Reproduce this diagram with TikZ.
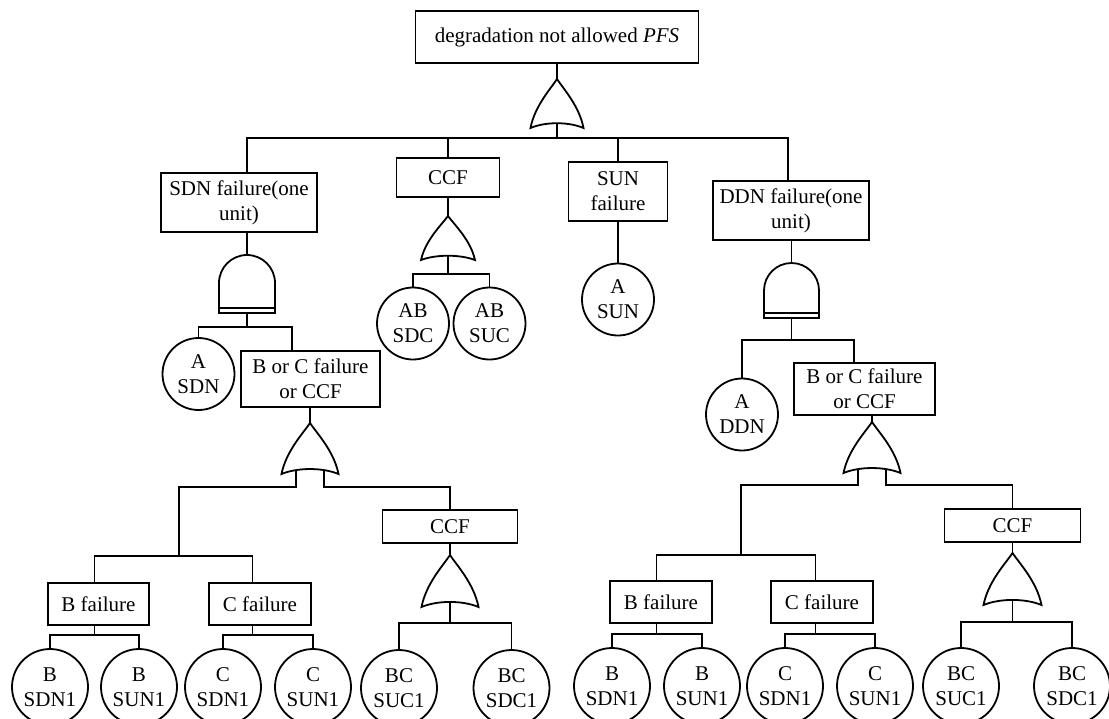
\documentclass[tikz,border=0pt]{standalone}
\usepackage{fontspec}
\setmainfont{Liberation Serif}
\usetikzlibrary{shapes.geometric}

\newcommand\evfont{\fontsize{15.75pt}{18.75pt}\selectfont}

\tikzset{
  wire/.style={line width=1.35pt},
  gate/.style={wire, fill=white},
  evbox/.style 2 args={draw, line width=1.35pt, rectangle, fill=white,
    minimum width=#1*0.75pt, minimum height=#2*0.75pt,
    inner sep=0pt, align=center, font=\evfont},
  basicev/.style={draw, line width=1.35pt, ellipse, fill=white,
    minimum width=76*0.75pt, minimum height=76*0.75pt,
    inner sep=0pt, align=center, font=\evfont},
  basicsm/.style={basicev, minimum width=72*0.75pt, minimum height=72*0.75pt},
}

% OR gate: name, centre x, top y, bottom y, width
\newcommand\orgate[5]{%
  \pgfmathsetmacro\gL{#2-#5/2}%
  \pgfmathsetmacro\gR{#2+#5/2}%
  \pgfmathsetmacro\gh{#4-#3}%
  \draw[gate] (\gL,#4)
    .. controls ({\gL+0.08*#5},{#4-0.45*\gh}) and ({#2-0.12*#5},{#3+0.2*\gh}) .. (#2,#3)
    .. controls ({#2+0.12*#5},{#3+0.2*\gh}) and ({\gR-0.08*#5},{#4-0.45*\gh}) .. (\gR,#4)
    .. controls ({#2+0.22*#5},{#4-0.13*\gh}) and ({#2-0.22*#5},{#4-0.13*\gh}) .. cycle;
  \coordinate (#1-in) at (#2,#3);
  \coordinate (#1-out) at ({#2},{#4-0.1*\gh});
  \coordinate (#1-l) at ({#2-0.25*#5},{#4-0.07*\gh});
  \coordinate (#1-r) at ({#2+0.25*#5},{#4-0.07*\gh});
}

% AND gate with base bar: name, centre x, top y, width, body bottom y, bar bottom y
\newcommand\andgate[6]{%
  \pgfmathsetmacro\gL{#2-#4/2}%
  \pgfmathsetmacro\gR{#2+#4/2}%
  \pgfmathsetmacro\gc{#3+#4/2}%
  \pgfmathsetmacro\gk{0.552*#4/2}%
  \draw[gate] (\gL,#6) -- (\gL,\gc)
    .. controls (\gL,{\gc-\gk}) and ({#2-\gk},#3) .. (#2,#3)
    .. controls ({#2+\gk},#3) and (\gR,{\gc-\gk}) .. (\gR,\gc)
    -- (\gR,#6) -- cycle;
  \draw[wire] (\gL,#5) -- (\gR,#5);
  \coordinate (#1-in) at (#2,#3);
  \coordinate (#1-out) at (#2,#6);
}

\begin{document}
\begin{tikzpicture}[x=0.75pt,y=-0.75pt]
\useasboundingbox (0,0) rectangle (1109,718);
\clip (0,0) rectangle (1109,718);

% ---- events ----
\node[evbox={283}{52}] (top) at (557,37) {degradation not allowed \textit{PFS}};
\node[evbox={156}{59}] (sdn) at (239,202.5) {SDN failure(one\\unit)};
\node[evbox={103}{39}] (ccf1) at (448,177.5) {CCF};
\node[evbox={99}{59}] (sun) at (618,191.5) {SUN\\failure};
\node[evbox={156}{59}] (ddn) at (791,210.5) {DDN failure(one\\unit)};

\node[basicsm] (abSdc) at (413,323.5) {AB\\SDC};
\node[basicsm] (abSuc) at (489.5,323.5) {AB\\SUC};
\node[basicsm] (asun) at (618,299.5) {A\\SUN};
\node[basicsm] (asdn) at (198.5,374) {A\\SDN};
\node[basicsm] (addn) at (742,414.5) {A\\DDN};

\node[evbox={139}{56}] (borcL) at (310.5,379) {B or C failure\\or CCF};
\node[evbox={141}{52}] (borcR) at (864.5,389) {B or C failure\\or CCF};

\node[evbox={101}{42}] (bfL) at (98.5,604) {B failure};
\node[evbox={102}{42}] (cfL) at (260,604) {C failure};
\node[evbox={135}{33}] (ccfL) at (450,526.5) {CCF};
\node[evbox={102}{42}] (bfR) at (661,602) {B failure};
\node[evbox={102}{42}] (cfR) at (822,602) {C failure};
\node[evbox={136}{33}] (ccfR) at (1012.5,525.5) {CCF};

\node[basicev] (bSdnL) at (50,687) {B\\SDN1};
\node[basicev] (bSunL) at (139,687) {B\\SUN1};
\node[basicev] (cSdnL) at (223,687) {C\\SDN1};
\node[basicev] (cSunL) at (313,687) {C\\SUN1};
\node[basicev] (bcSucL) at (399,688) {BC\\SUC1};
\node[basicev] (bcSdcL) at (511.5,688) {BC\\SDC1};
\node[basicev] (bSdnR) at (612,686) {B\\SDN1};
\node[basicev] (bSunR) at (702,686) {B\\SUN1};
\node[basicev] (cSdnR) at (785,686) {C\\SDN1};
\node[basicev] (cSunR) at (875,686) {C\\SUN1};
\node[basicev] (bcSucR) at (961,686) {BC\\SUC1};
\node[basicev] (bcSdcR) at (1072,686) {BC\\SDC1};

% ---- gates ----
\orgate{o1}{557}{79}{128}{53}
\orgate{o2}{448}{216}{260}{54}
\orgate{o3}{310}{423}{474}{57}
\orgate{o4}{450}{555}{607}{57}
\orgate{o5}{872}{422}{473}{57}
\orgate{o6}{1012.5}{553}{605}{58}
\andgate{a1}{247}{255}{56}{308}{313}
\andgate{a2}{791.5}{263}{55}{313}{318}

% ---- connection points on event edges ----
\coordinate (sdn-in) at ([xshift=6pt]sdn.north);
\coordinate (ddn-in) at ([xshift=-2.25pt]ddn.north);
\coordinate (borcL-in) at ([xshift=-13.875pt]borcL.north);
\coordinate (borcR-in) at ([xshift=-7.875pt]borcR.north);
\coordinate (bfL-in) at ([xshift=-3pt]bfL.north);
\coordinate (bfL-out) at ([xshift=-3pt]bfL.south);
\coordinate (cfL-in) at ([xshift=-5.625pt]cfL.north);
\coordinate (cfL-out) at ([xshift=-5.625pt]cfL.south);
\coordinate (bfR-in) at ([xshift=-3.375pt]bfR.north);
\coordinate (bfR-out) at ([xshift=-3.375pt]bfR.south);
\coordinate (cfR-in) at ([xshift=-4.875pt]cfR.north);
\coordinate (cfR-out) at ([xshift=-4.875pt]cfR.south);

% ---- bus levels ----
\coordinate (b0) at (0,138);
\coordinate (b1) at (0,274);
\coordinate (b2) at (0,327);
\coordinate (b3) at (0,340);
\coordinate (b4) at (0,487);
\coordinate (b5) at (0,556);
\coordinate (b6) at (0,635);
\coordinate (b7) at (0,623);
\coordinate (b8) at (0,485);
\coordinate (b9) at (0,555);
\coordinate (b10) at (0,634);
\coordinate (b11) at (0,622);
\coordinate (jL) at (179,556);
\coordinate (jR) at (741,555);

% ---- connectors ----
\draw[wire] (top.south) -- (o1-in);
\draw[wire] (o1-out) -- (o1-out |- b0);
\draw[wire] (sdn-in) -- (sdn-in |- b0) -- (ddn-in |- b0) -- (ddn-in);
\draw[wire] (ccf1.north) -- (ccf1.north |- b0);
\draw[wire] (sun.north) -- (sun.north |- b0);

\draw[wire] (a1-in |- sdn.south) -- (a1-in);
\draw[wire] (a1-out) -- (a1-out |- b2);
\draw[wire] (asdn.north) -- (asdn.north |- b2) -- (borcL-in |- b2) -- (borcL-in);

\draw[wire] (ccf1.south) -- (o2-in);
\draw[wire] (o2-out) -- (o2-out |- b1);
\draw[wire] (abSdc.north) -- (abSdc.north |- b1) -- (abSuc.north |- b1) -- (abSuc.north);

\draw[wire] (sun.south) -- (asun.north);

\draw[wire] (a2-in |- ddn.south) -- (a2-in);
\draw[wire] (a2-out) -- (a2-out |- b3);
\draw[wire] (addn.north) -- (addn.north |- b3) -- (borcR-in |- b3) -- (borcR-in);

% left B or C branch
\draw[wire] (o3-in |- borcL.south) -- (o3-in);
\draw[wire] (o3-l) -- (o3-l |- b4) -| (jL);
\draw[wire] (bfL-in) -- (bfL-in |- b5) -- (cfL-in |- b5) -- (cfL-in);
\draw[wire] (o3-r) -- (o3-r |- b4) -| (ccfL.north);
\draw[wire] (ccfL.south) -- (o4-in);
\draw[wire] (o4-out) -- (o4-out |- b7);
\draw[wire] (bcSucL.north) -- (bcSucL.north |- b7) -- (bcSdcL.north |- b7) -- (bcSdcL.north);
\draw[wire] (bfL-out) -- (bfL-out |- b6);
\draw[wire] (bSdnL.north) -- (bSdnL.north |- b6) -- (bSunL.north |- b6) -- (bSunL.north);
\draw[wire] (cfL-out) -- (cfL-out |- b6);
\draw[wire] (cSdnL.north) -- (cSdnL.north |- b6) -- (cSunL.north |- b6) -- (cSunL.north);

% right B or C branch
\draw[wire] (o5-in |- borcR.south) -- (o5-in);
\draw[wire] (o5-l) -- (o5-l |- b8) -| (jR);
\draw[wire] (bfR-in) -- (bfR-in |- b9) -- (cfR-in |- b9) -- (cfR-in);
\draw[wire] (o5-r) -- (o5-r |- b8) -| (ccfR.north);
\draw[wire] (ccfR.south) -- (o6-in);
\draw[wire] (o6-out) -- (o6-out |- b11);
\draw[wire] (bcSucR.north) -- (bcSucR.north |- b11) -- (bcSdcR.north |- b11) -- (bcSdcR.north);
\draw[wire] (bfR-out) -- (bfR-out |- b10);
\draw[wire] (bSdnR.north) -- (bSdnR.north |- b10) -- (bSunR.north |- b10) -- (bSunR.north);
\draw[wire] (cfR-out) -- (cfR-out |- b10);
\draw[wire] (cSdnR.north) -- (cSdnR.north |- b10) -- (cSunR.north |- b10) -- (cSunR.north);
\end{tikzpicture}
\end{document}
